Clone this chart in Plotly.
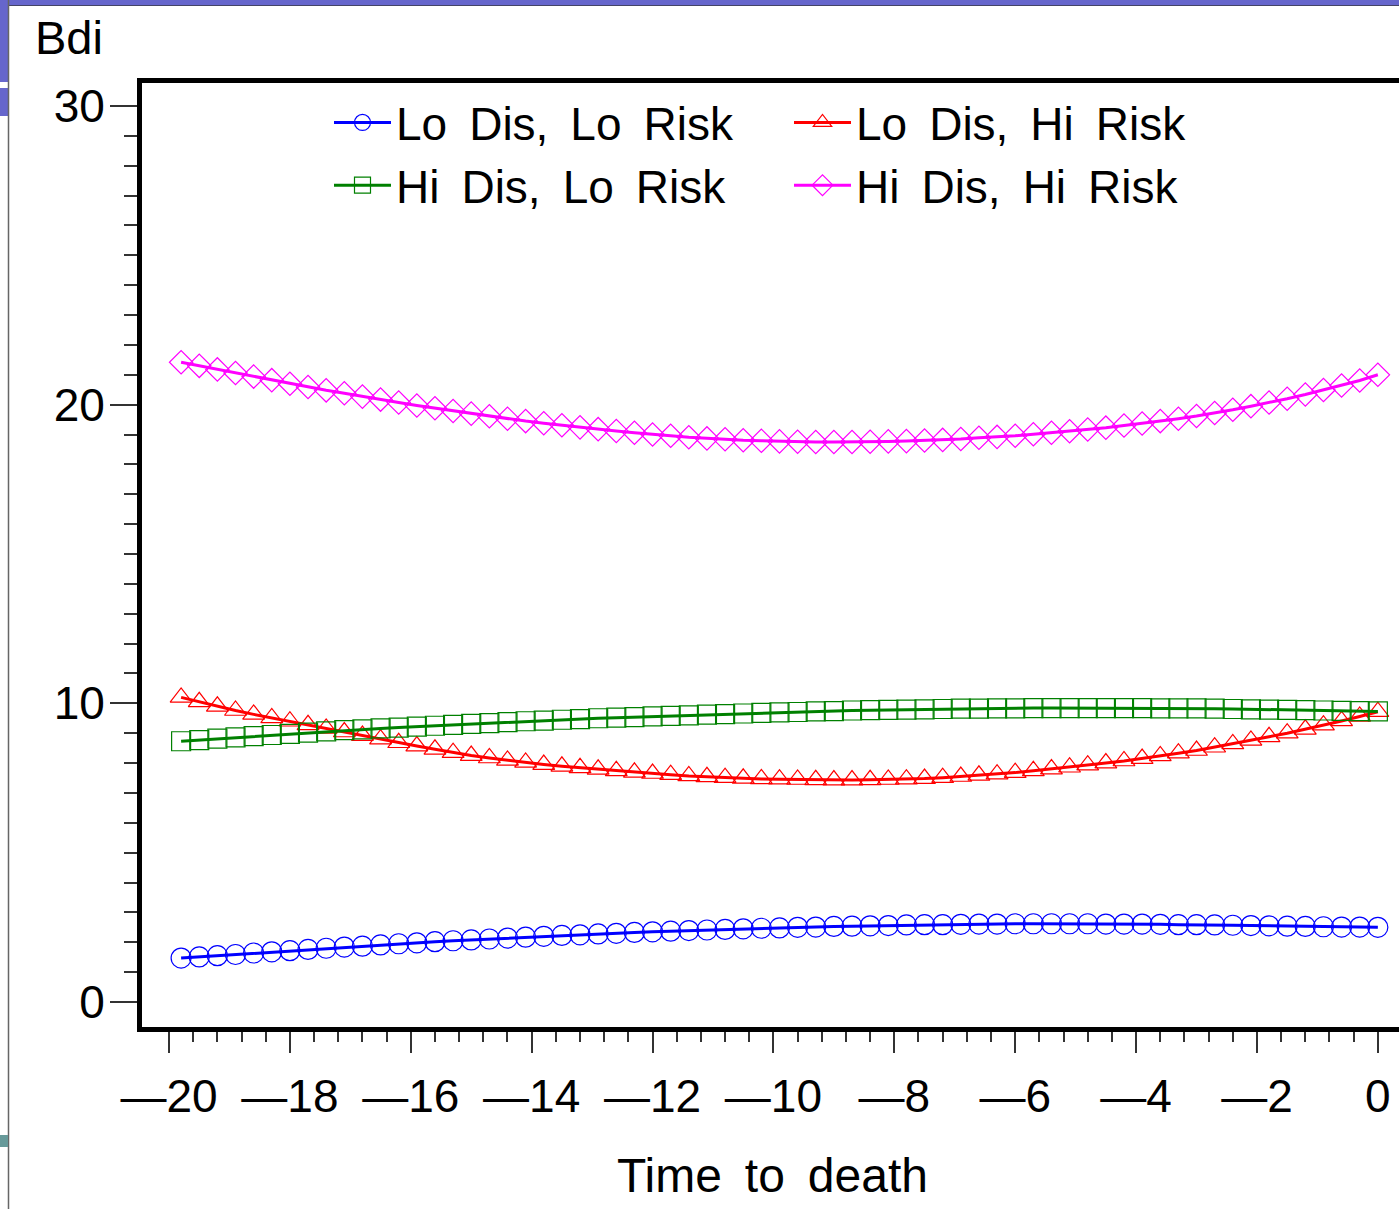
import plotly.graph_objects as go

# ---------------- data ----------------
time_to_death = [
    -19.8, -19.5, -19.2, -18.9, -18.6, -18.3, -18.0, -17.7, -17.4, -17.1,
    -16.8, -16.5, -16.2, -15.9, -15.6, -15.3, -15.0, -14.7, -14.4, -14.1,
    -13.8, -13.5, -13.2, -12.9, -12.6, -12.3, -12.0, -11.7, -11.4, -11.1,
    -10.8, -10.5, -10.2, -9.9, -9.6, -9.3, -9.0, -8.7, -8.4, -8.1,
    -7.8, -7.5, -7.2, -6.9, -6.6, -6.3, -6.0, -5.7, -5.4, -5.1,
    -4.8, -4.5, -4.2, -3.9, -3.6, -3.3, -3.0, -2.7, -2.4, -2.1,
    -1.8, -1.5, -1.2, -0.9, -0.6, -0.3, 0.0,
]

lo_dis_lo_risk = [
    1.47, 1.51, 1.55, 1.59, 1.64, 1.68, 1.72, 1.76, 1.80, 1.84,
    1.87, 1.91, 1.95, 1.98, 2.02, 2.05, 2.08, 2.11, 2.14, 2.17,
    2.20, 2.23, 2.25, 2.28, 2.30, 2.33, 2.35, 2.37, 2.39, 2.41,
    2.43, 2.45, 2.47, 2.48, 2.50, 2.51, 2.53, 2.54, 2.55, 2.56,
    2.58, 2.59, 2.59, 2.60, 2.61, 2.61, 2.62, 2.62, 2.62, 2.62,
    2.62, 2.61, 2.61, 2.61, 2.60, 2.59, 2.59, 2.58, 2.57, 2.56,
    2.55, 2.54, 2.53, 2.52, 2.51, 2.51, 2.50,
]

lo_dis_hi_risk = [
    10.20, 10.05, 9.90, 9.76, 9.63, 9.51, 9.40, 9.28, 9.16, 9.04,
    8.92, 8.80, 8.68, 8.57, 8.46, 8.35, 8.25, 8.17, 8.09, 8.02,
    7.95, 7.89, 7.84, 7.79, 7.74, 7.69, 7.65, 7.61, 7.57, 7.54,
    7.51, 7.49, 7.47, 7.46, 7.45, 7.44, 7.43, 7.43, 7.44, 7.45,
    7.46, 7.48, 7.51, 7.55, 7.59, 7.63, 7.68, 7.74, 7.80, 7.86,
    7.93, 8.00, 8.07, 8.15, 8.24, 8.33, 8.42, 8.53, 8.64, 8.76,
    8.88, 9.00, 9.13, 9.27, 9.41, 9.56, 9.72,
]

hi_dis_lo_risk = [
    8.73, 8.77, 8.82, 8.86, 8.90, 8.94, 8.98, 9.02, 9.06, 9.10,
    9.13, 9.16, 9.19, 9.22, 9.25, 9.28, 9.31, 9.34, 9.37, 9.40,
    9.42, 9.45, 9.47, 9.50, 9.52, 9.54, 9.56, 9.58, 9.60, 9.62,
    9.64, 9.66, 9.68, 9.70, 9.71, 9.73, 9.74, 9.76, 9.77, 9.78,
    9.79, 9.80, 9.81, 9.82, 9.82, 9.83, 9.83, 9.84, 9.84, 9.84,
    9.84, 9.84, 9.84, 9.84, 9.83, 9.83, 9.83, 9.82, 9.81, 9.80,
    9.79, 9.78, 9.77, 9.76, 9.75, 9.74, 9.73,
]

hi_dis_hi_risk = [
    21.42, 21.30, 21.18, 21.06, 20.94, 20.82, 20.70, 20.59, 20.48, 20.38,
    20.27, 20.17, 20.07, 19.97, 19.88, 19.79, 19.70, 19.61, 19.53, 19.45,
    19.38, 19.31, 19.24, 19.18, 19.12, 19.06, 19.00, 18.96, 18.91, 18.87,
    18.84, 18.81, 18.79, 18.77, 18.76, 18.75, 18.75, 18.75, 18.76, 18.77,
    18.78, 18.80, 18.82, 18.85, 18.89, 18.92, 18.96, 19.01, 19.06, 19.11,
    19.17, 19.23, 19.30, 19.37, 19.45, 19.53, 19.62, 19.72, 19.83, 19.95,
    20.07, 20.20, 20.34, 20.49, 20.64, 20.81, 21.00,
]

series_names = [
    "Lo\u2009 Dis,\u2009 Lo\u2009 Risk",
    "Lo\u2009 Dis,\u2009 Hi\u2009 Risk",
    "Hi\u2009 Dis,\u2009 Lo\u2009 Risk",
    "Hi\u2009 Dis,\u2009 Hi\u2009 Risk",
]

x_tick_vals = [-20, -18, -16, -14, -12, -10, -8, -6, -4, -2, 0]
x_tick_text = ["\u201420", "\u201418", "\u201416", "\u201414", "\u201412", "\u201410",
               "\u20148", "\u20146", "\u20144", "\u20142", "0"]
y_tick_vals = [0, 10, 20, 30]
y_tick_text = ["0", "10", "20", "30"]

# ---------------- styling ----------------
W, H = 1399, 1209
L, R, T, B = 142, 0, 83, 182
PW, PH = W - L - R, H - T - B
FONT = "Liberation Sans, Arial, Helvetica, sans-serif"


def px_x(p):
    return (p - L) / PW


def px_y(p):
    return (H - B - p) / PH


styles = [
    dict(color="#0000FF", symbol="circle-open", size=20),
    dict(color="#FF0000", symbol="triangle-up-open", size=19),
    dict(color="#008000", symbol="square-open", size=19),
    dict(color="#FF00FF", symbol="diamond-open", size=18),
]
series_values = [lo_dis_lo_risk, lo_dis_hi_risk, hi_dis_lo_risk, hi_dis_hi_risk]

fig = go.Figure()
for name, vals, st in zip(series_names, series_values, styles):
    fig.add_trace(go.Scatter(
        x=time_to_death, y=vals, name=name, mode="lines+markers",
        line=dict(color=st["color"], width=3),
        marker=dict(symbol=st["symbol"], size=st["size"], color=st["color"],
                    line=dict(color=st["color"], width=1.2)),
    ))

axis_common = dict(
    showline=True, linecolor="black", linewidth=5, mirror=True,
    showgrid=False, zeroline=False,
    ticks="outside", tickcolor="#333333", tickwidth=2,
    tickfont=dict(family=FONT, size=46, color="black"),
)

x_minor_vals = [round(-20 + 0.4 * i, 1) for i in range(51) if (i % 5) != 0]
y_minor_vals = [i for i in range(0, 31) if i % 10 != 0]

fig.update_xaxes(
    range=[-20.447, 0.35], tickmode="array", tickvals=x_tick_vals, ticktext=x_tick_text,
    ticklen=21, ticklabelstandoff=4,
    minor=dict(tickmode="array", tickvals=x_minor_vals, ticks="outside", ticklen=10,
               tickcolor="#333333", tickwidth=2),
    **axis_common,
)
fig.update_yaxes(
    range=[-0.837, 30.77], tickmode="array", tickvals=y_tick_vals, ticktext=y_tick_text,
    ticklen=27, ticklabelstandoff=-4,
    minor=dict(tickmode="array", tickvals=y_minor_vals, ticks="outside", ticklen=13,
               tickcolor="#333333", tickwidth=2),
    **axis_common,
)

shapes = [
    # slide decorations
    dict(type="rect", xref="paper", yref="paper", x0=px_x(0), x1=px_x(W + 5), y0=px_y(0), y1=px_y(5),
         fillcolor="#6666CC", line=dict(width=0), layer="above"),
    dict(type="line", xref="paper", yref="paper", x0=px_x(0), x1=px_x(W + 5), y0=px_y(5.5), y1=px_y(5.5),
         line=dict(color="#444466", width=1), layer="above"),
    dict(type="rect", xref="paper", yref="paper", x0=px_x(0), x1=px_x(8), y0=px_y(0), y1=px_y(82),
         fillcolor="#6666CC", line=dict(width=0), layer="above"),
    dict(type="rect", xref="paper", yref="paper", x0=px_x(0), x1=px_x(8), y0=px_y(88), y1=px_y(116),
         fillcolor="#6666CC", line=dict(width=0), layer="above"),
    dict(type="line", xref="paper", yref="paper", x0=px_x(8.5), x1=px_x(8.5), y0=px_y(0), y1=px_y(H),
         line=dict(color="#666666", width=1.5), layer="above"),
    dict(type="rect", xref="paper", yref="paper", x0=px_x(0), x1=px_x(8), y0=px_y(1135), y1=px_y(1147),
         fillcolor="#669999", line=dict(width=0), layer="above"),
]

annotations = [
    dict(text="Bdi", xref="paper", yref="paper", x=px_x(33), y=px_y(37),
         xanchor="left", yanchor="middle", showarrow=False,
         font=dict(family=FONT, size=47, color="black")),
    dict(text="Time\u2009 to\u2009 death", xref="paper", yref="paper", x=px_x(772), y=px_y(1175),
         xanchor="center", yanchor="middle", showarrow=False,
         font=dict(family=FONT, size=48, color="black")),
]

fig.update_layout(
    width=W, height=H, autosize=False,
    margin=dict(l=L, r=R, t=T, b=B, pad=0, autoexpand=False),
    paper_bgcolor="white", plot_bgcolor="white",
    shapes=shapes, annotations=annotations,
    showlegend=True,
    legend=dict(
        orientation="h", xref="paper", yref="paper",
        x=px_x(329), y=px_y(86), xanchor="left", yanchor="top",
        entrywidth=388, entrywidthmode="pixels", itemwidth=57,
        font=dict(family=FONT, size=46, color="black"),
        bgcolor="rgba(0,0,0,0)", borderwidth=0,
        traceorder="normal",
    ),
)

fig.write_html(
    "out.html",
    config={"displayModeBar": False},
    post_script="document.body.style.margin='0';document.body.style.padding='0';",
)
